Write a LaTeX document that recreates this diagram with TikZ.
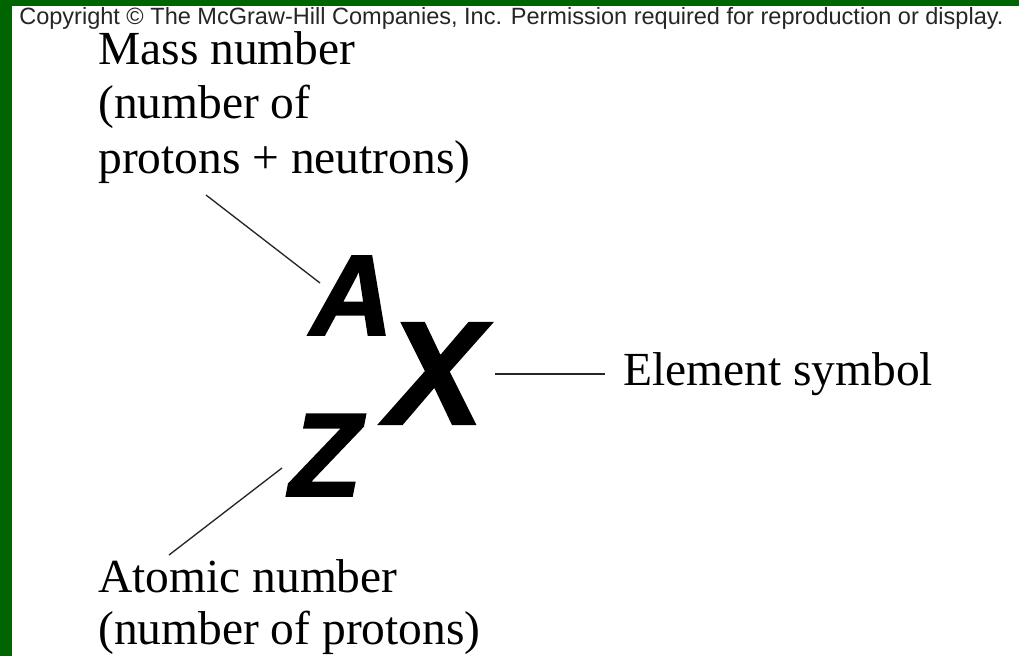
\documentclass[tikz,border=0pt]{standalone}
\usepackage{fontspec}
\setmainfont{Liberation Serif}
\newfontfamily\notefont{Liberation Sans}
\newfontfamily\symfont{Liberation Sans}[UprightFont={* Bold Italic}, FakeBold=1.5]
\definecolor{slidegreen}{RGB}{0,100,0}
\tikzset{
  label/.style={anchor=base west, inner sep=0pt, font=\fontsize{35.6}{41}\selectfont},
  letter/.style={anchor=base west, inner sep=0pt, font=\symfont\fontsize{#1}{#1}\selectfont},
  pointer/.style={line width=1pt, black!85}
}
\begin{document}
\begin{tikzpicture}[x=0.75pt, y=-0.75pt]
    \useasboundingbox (0,0) rectangle (1019,656);
    % Frame
    \fill[slidegreen] (0,0) rectangle (1019,656);
    \fill[white] (12,6) rectangle (1019,656);
    \node[anchor=base west, inner sep=0pt, black!85, font=\notefont\fontsize{17.65}{18}\selectfont] (copy) at (19,25)
        {Copyright \textcopyright{} The McGraw-Hill Companies, Inc. Permission required for reproduction or display.};
    % Mass number
    \node[label] (mass1) at (98,65) {Mass number};
    \node[label] (mass2) at (98,119) {(number of};
    \node[label] (mass3) at (98,173) {protons + neutrons)};
    % Symbol
    \node[letter=86] (A) at (310,335) {A};
    \node[letter=110] (X) at (386,424) {X};
    \node[letter=89] (Z) at (289,496) {Z};
    % Element symbol
    \node[label] (elem) at (623,385) {Element symbol};
    % Atomic number
    \node[label] (atom1) at (98,592) {Atomic number};
    \node[label] (atom2) at (98,644) {(number of protons)};
    % Pointers
    \coordinate (massend) at (206,195);
    \coordinate (Aend) at (320,283);
    \coordinate (Xend) at (495,374);
    \coordinate (elemend) at (605,374);
    \coordinate (atomend) at (169,555);
    \coordinate (Zend) at (282,468);
    \draw[pointer] (massend) -- (Aend);
    \draw[pointer] (Xend) -- (elemend);
    \draw[pointer] (atomend) -- (Zend);
\end{tikzpicture}
\end{document}
